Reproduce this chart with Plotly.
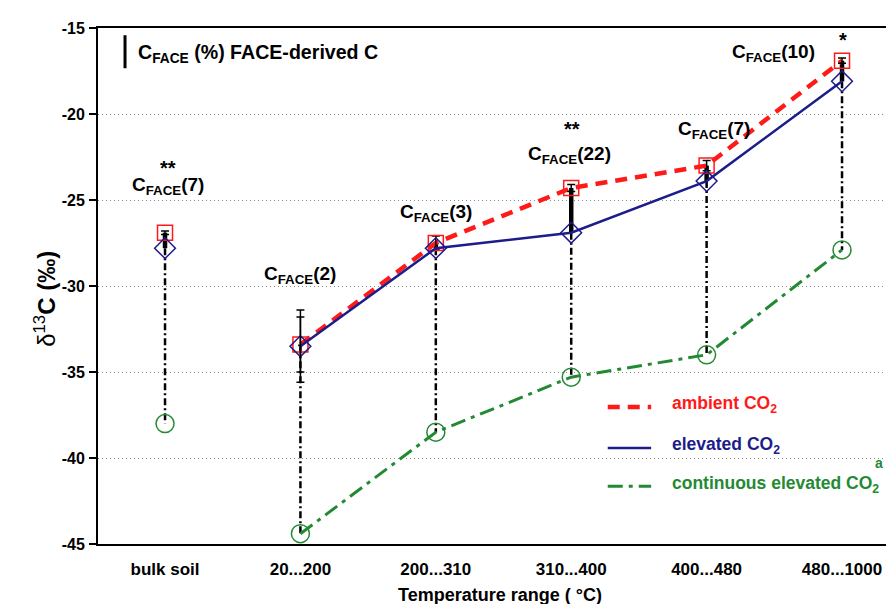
import plotly.graph_objects as go

# ---------------- data ----------------
categories = ["bulk soil", "20...200", "200...310", "310...400", "400...480", "480...1000"]
ambient = [-26.9, -33.4, -27.5, -24.3, -23.0, -16.9]
elevated = [-27.8, -33.5, -27.8, -26.9, -23.9, -18.1]
continuous = [-38.0, -44.4, -38.5, -35.3, -34.0, -27.9]
ambient_err = [0.1, 1.6, 0.4, 0.2, 0.3, 0.15]
elevated_err = [0.0, 2.1, 0.0, 0.0, 0.0, 0.0]
cface = [7, 2, 3, 22, 7, 10]
signif = ["**", "", "", "**", "", "*"]
y_ticks = [-45, -40, -35, -30, -25, -20, -15]

# ---------------- styles ----------------
FONT = "Liberation Sans, Arial, sans-serif"
RED = "#ff1a1a"
NAVY = "#1c1c8a"
GREEN = "#238a33"
RED_DASH = "12px,8px"
GREEN_DASH = "15px,6px,4px,6px"

xs = list(range(len(categories)))
fx = xs[1:]  # fractions are connected by lines; bulk soil stands alone

fig = go.Figure()

# dash-dot black verticals: elevated -> continuous
vx, vy = [], []
for i in xs:
    vx += [i, i, None]
    vy += [elevated[i], continuous[i], None]
fig.add_trace(go.Scatter(x=vx, y=vy, mode="lines", hoverinfo="skip",
                         line=dict(color="black", width=2.5, dash="7px,3px,2px,3px"),
                         showlegend=False))

# thick C_FACE bars: ambient -> elevated
bx, by = [], []
for i in xs:
    bx += [i, i, None]
    by += [ambient[i], elevated[i], None]
fig.add_trace(go.Scatter(x=bx, y=by, mode="lines", hoverinfo="skip",
                         line=dict(color="black", width=4.5), showlegend=False))

series = [
    (continuous, dict(color=GREEN, width=3, dash=GREEN_DASH),
     dict(symbol="circle-open", size=18, color=GREEN, line=dict(width=1.5)), None),
    (ambient, dict(color=RED, width=4.5, dash=RED_DASH),
     dict(symbol="square-open", size=15, color=RED, line=dict(width=1.5)),
     dict(type="data", array=ambient_err, symmetric=True, color="black", thickness=1.5, width=4)),
    (elevated, dict(color=NAVY, width=2.5),
     dict(symbol="diamond-open", size=16, color=NAVY, line=dict(width=1.5)), None),
]
for vals, line, marker, err in series:
    fig.add_trace(go.Scatter(x=fx, y=[vals[i] for i in fx], mode="lines", line=line,
                             hoverinfo="skip", showlegend=False))
    tr = dict(x=xs, y=vals, mode="markers", marker=marker, showlegend=False)
    if err:
        tr["error_y"] = err
    fig.add_trace(go.Scatter(**tr))

# elevated error bars (only where present)
ei = [i for i in xs if elevated_err[i] > 0]
fig.add_trace(go.Scatter(x=ei, y=[elevated[i] for i in ei], mode="markers", hoverinfo="skip",
                         marker=dict(size=1, color="rgba(0,0,0,0)"),
                         error_y=dict(type="data", array=[elevated_err[i] for i in ei], symmetric=True,
                                      color="black", thickness=1.5, width=4),
                         showlegend=False))

# ---------------- annotations ----------------
ann = []
# (label yshift, label xshift, star yshift) per category
label_shift = [(45, 3, 63), (42, 0, 0), (23, 0, 0), (30, -2, 56), (30, 7, 0), (5, -69, 18)]
for i in xs:
    top = ambient[i] + ambient_err[i]
    ly, lx, sy = label_shift[i]
    ann.append(dict(x=i, y=top, xref="x", yref="y", yshift=ly, xshift=lx,
                    text="<b>C<sub>FACE</sub>(%d)</b>" % cface[i], showarrow=False,
                    font=dict(family=FONT, size=19, color="black"), xanchor="center", yanchor="middle"))
    if signif[i]:
        ann.append(dict(x=i, y=top, xref="x", yref="y", yshift=sy, xshift=3 if i == 0 else 1,
                        text="<b>%s</b>" % signif[i], showarrow=False,
                        font=dict(family=FONT, size=20, color="black"), xanchor="center", yanchor="middle"))

# top-left key
ann.append(dict(x=0.047, y=0.951, xref="paper", yref="paper", xanchor="left", yanchor="middle",
                text="<b>C<sub>FACE</sub> (%) FACE-derived C</b>", showarrow=False,
                font=dict(family=FONT, size=19.6, color="black")))

# y-axis title
ann.append(dict(x=-0.066, y=0.475, xref="paper", yref="paper", xanchor="center", yanchor="middle",
                textangle=-90, text="δ<sup>13</sup><b>C (‰)</b>", showarrow=False,
                font=dict(family=FONT, size=24, color="black")))

# legend
legend_items = [("ambient CO<sub>2</sub>", RED, RED_DASH, 4.5, 0.2655),
                ("elevated CO<sub>2</sub>", NAVY, "solid", 2.5, 0.186),
                ("continuous elevated CO<sub>2</sub>", GREEN, GREEN_DASH, 3, 0.112)]
shapes = []
for txt, col, dash, w, yy in legend_items:
    shapes.append(dict(type="line", xref="paper", yref="paper", x0=0.634, x1=0.688, y0=yy, y1=yy,
                       line=dict(color=col, width=w, dash=dash)))
    ann.append(dict(x=0.711, y=yy + 0.004, xref="paper", yref="paper", xanchor="left", yanchor="middle",
                    text="<b>%s</b>" % txt, showarrow=False,
                    font=dict(family=FONT, size=17.5, color=col)))
ann.append(dict(x=0.972, y=0.157, xref="paper", yref="paper", xanchor="center", yanchor="middle",
                text="<b>a</b>", showarrow=False, font=dict(family=FONT, size=14, color=GREEN)))

shapes.append(dict(type="line", xref="paper", yref="paper", x0=0.0336, x1=0.0336, y0=0.922, y1=0.986,
                   line=dict(color="black", width=3)))

fig.update_layout(
    width=894, height=604,
    margin=dict(l=90, r=0, t=20, b=68),
    plot_bgcolor="white", paper_bgcolor="white",
    font=dict(family=FONT, color="black"),
    annotations=ann, shapes=shapes,
    showlegend=False,
)
fig.update_xaxes(
    range=[-0.495, 5.443], tickvals=xs, ticktext=categories,
    tickfont=dict(family=FONT, size=17, weight="bold"),
    showgrid=False, zeroline=False, showline=True, linecolor="black", linewidth=2, mirror=True,
    ticks="", ticklabelstandoff=9,
    title=dict(text="<b>Temperature range ( °C)</b>", font=dict(family=FONT, size=18), standoff=10),
)
fig.update_yaxes(
    range=[-45, -15], tickvals=y_ticks, ticktext=[str(v) for v in y_ticks],
    tickfont=dict(family=FONT, size=16, weight="bold"),
    showgrid=True, gridcolor="#8a8a8a", gridwidth=1, griddash="1px,3px",
    zeroline=False, showline=True, linecolor="black", linewidth=2,
    ticks="outside", ticklen=7, tickwidth=1.5, tickcolor="black", ticklabelstandoff=1,
)

fig.write_html("out.html")
